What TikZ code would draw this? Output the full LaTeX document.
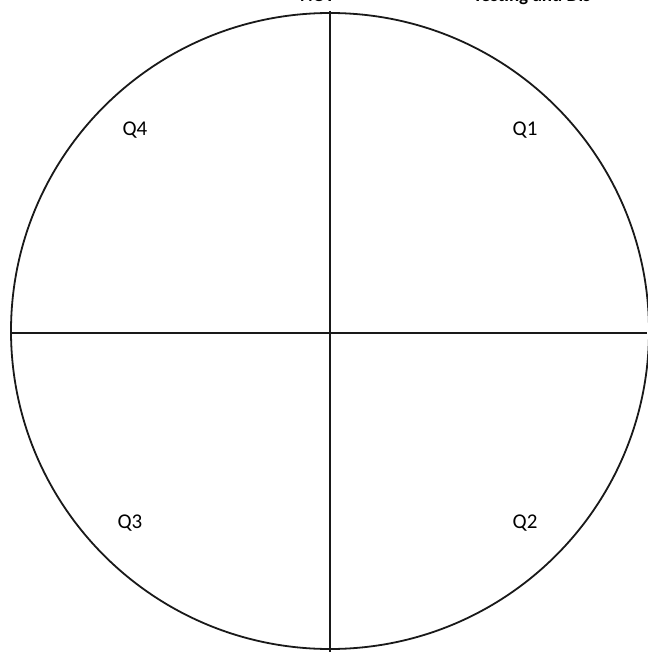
\documentclass[tikz,border=0pt]{standalone}
\usepackage{fontspec}
\setmainfont{Carlito}
\begin{document}
\begin{tikzpicture}[x=1pt,y=-1pt,
  lbl/.style={font=\fontsize{21}{24}\selectfont, inner sep=0pt},
  hdr/.style={font=\fontsize{19}{22}\selectfont\bfseries, inner sep=0pt, anchor=base},
  ln/.style={line width=1.8pt, black!90}]
\useasboundingbox[fill=white] (0,0) rectangle (647,652);
\coordinate (c) at (330,331);
\coordinate (l) at (11,333);
\coordinate (r) at (647,333);
\coordinate (t) at (330,11);
\coordinate (b) at (330,652);
\draw[ln] (c) circle[x radius=319, y radius=318];
\draw[ln] (l) -- (r);
\draw[ln] (t) -- (b);
\node[lbl] (q4) at (135,130) {Q4};
\node[lbl] (q1) at (525,130) {Q1};
\node[lbl] (q3) at (130,523) {Q3};
\node[lbl] (q2) at (525,523) {Q2};
\node[hdr, anchor=base west] (h1) at (300,2) {NOT};
\node[hdr, anchor=base west] (h2) at (473,2) {Testing and Dis};
\end{tikzpicture}
\end{document}
